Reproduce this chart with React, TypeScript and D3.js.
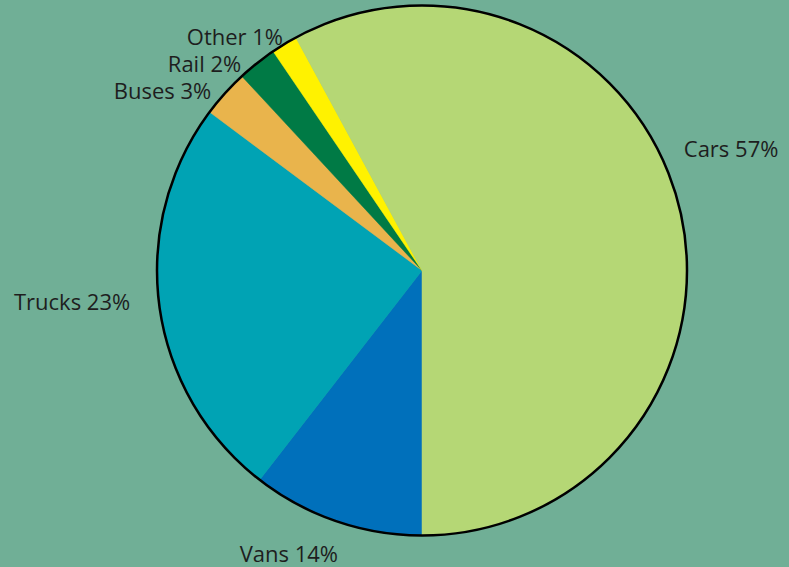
import React from "react";
import * as d3 from "d3";

const categories = ["Vans", "Trucks", "Buses", "Rail", "Other", "Cars"];
// slice sizes as drawn in the picture (share of the circle, %)
const sliceValues = [10.5, 24.7, 2.9, 2.4, 1.6, 57.9];
// percentages printed in the labels
const labelPercents = [14, 23, 3, 2, 1, 57];
const colors = ["#0070bb", "#00a3b4", "#e9b44c", "#007a45", "#fff200", "#b5d775"];

const W = 789;
const H = 567;

// label placement (polar, degrees clockwise from 12 o'clock, radius relative to pie radius)
const labelPlacement: Record<string, { angle: number; rf: number; anchor: string }> = {
  Vans: { angle: 205.2, rf: 1.18, anchor: "middle" },
  Trucks: { angle: 264.1, rf: 1.107, anchor: "end" },
  Buses: { angle: 310.5, rf: 1.046, anchor: "end" },
  Rail: { angle: 319, rf: 1.04, anchor: "end" },
  Other: { angle: 329.4, rf: 1.03, anchor: "end" },
  Cars: { angle: 65, rf: 1.09, anchor: "start" },
};

export default function App() {
  const cx = 422;
  const cy = 270.5;
  const r = 265;

  const data = categories.map((c, i) => ({ name: c, value: sliceValues[i], pct: labelPercents[i], color: colors[i] }));
  const pie = d3
    .pie<any>()
    .sort(null)
    .value((d: any) => d.value)
    .startAngle(Math.PI)
    .endAngle(3 * Math.PI);
  const arcs = pie(data);
  const arc = d3.arc<any>().innerRadius(0).outerRadius(r);

  return (
    <svg
      width={W}
      height={H}
      style={{ position: "absolute", left: 0, top: 0, display: "block" }}
      xmlns="http://www.w3.org/2000/svg"
    >
      <rect x={0} y={0} width={W} height={H} fill="#70af96" />
      <g transform={`translate(${cx},${cy})`}>
        {arcs.map((a: any) => (
          <path key={a.data.name} d={arc(a) as string} fill={a.data.color} stroke={a.data.color} strokeWidth={0.5} />
        ))}
        <circle r={r} fill="none" stroke="#000" strokeWidth={2.5} />
        {arcs.map((a: any) => {
          const p = labelPlacement[a.data.name];
          const ang = (p.angle * Math.PI) / 180;
          const rr = r * p.rf;
          const x = rr * Math.sin(ang);
          const y = -rr * Math.cos(ang);
          return (
            <text
              key={"l" + a.data.name}
              x={x}
              y={y}
              textAnchor={p.anchor as any}
              dominantBaseline="central"
              fontFamily="'Open Sans', sans-serif"
              fontSize={22}
              fill="#1e1e1e"
            >
              {`${a.data.name} ${a.data.pct}%`}
            </text>
          );
        })}
      </g>
    </svg>
  );
}
